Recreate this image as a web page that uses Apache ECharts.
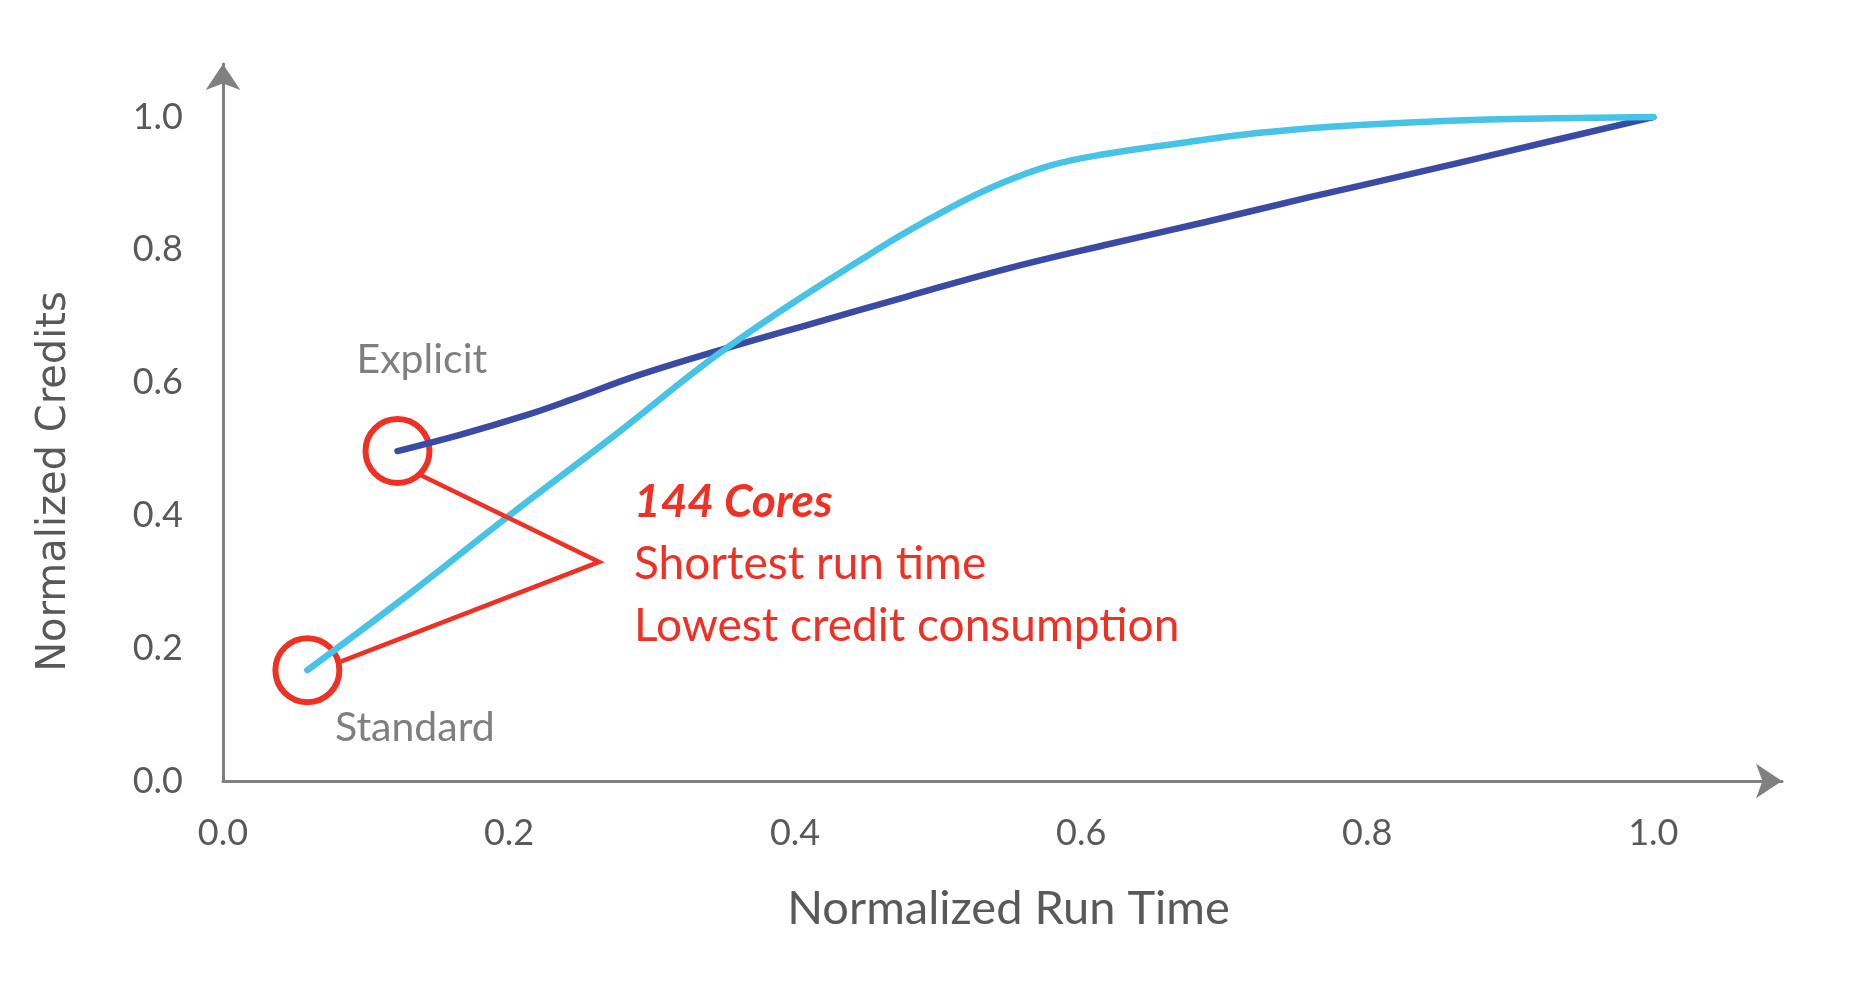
<!DOCTYPE html>
<html>
  <head>
    <meta charset="utf-8" />
    <title>Normalized Credits vs Run Time</title>
    <script src="https://cdn.jsdelivr.net/npm/echarts@6/dist/echarts.min.js"></script>
    <style type="text/css">
      html, body { margin: 0; padding: 0; background: #fff; }
    </style>
  </head>
  <body>
    <div id="main" style="width: 1871px; height: 990px"></div>
    <script type="text/javascript">
      // curves: [normalized run time, normalized credits]
      var explicitData = [
        [0.122, 0.497], [0.165, 0.521], [0.212, 0.551], [0.243, 0.574],
        [0.290, 0.611], [0.352, 0.652], [0.415, 0.691], [0.477, 0.729],
        [0.545, 0.770], [0.616, 0.807], [0.687, 0.842], [0.759, 0.879],
        [0.830, 0.914], [0.901, 0.950], [1.0, 1.0]
      ];
      var standardData = [
        [0.059, 0.167], [0.134, 0.288], [0.199, 0.398], [0.274, 0.521],
        [0.352, 0.652], [0.457, 0.800], [0.509, 0.864], [0.545, 0.901],
        [0.580, 0.928], [0.616, 0.944], [0.670, 0.961], [0.723, 0.976],
        [0.777, 0.986], [0.830, 0.992], [0.901, 0.997], [1.0, 1.0]
      ];
      var tickValues = [0, 0.2, 0.4, 0.6, 0.8, 1.0];

      // annotation: circled start points, connector, labels
      var circled = [explicitData[0], standardData[0]];
      var connector = [[0.138, 0.461], [0.263, 0.330], [0.080, 0.178]];
      var seriesLabels = [
        { name: "Explicit", value: [0.093, 0.634] },
        { name: "Standard", value: [0.078, 0.080] }
      ];
      var noteTitle = [{ name: "144 Cores", value: [0.287, 0.420] }];
      var noteLines = [
        { name: "Shortest run time", value: [0.287, 0.327] },
        { name: "Lowest credit consumption", value: [0.287, 0.233] }
      ];

      var red = "#EE3124";
      var axisGrey = "#808080";

      var myChart = echarts.init(document.getElementById("main"));

      function axisCommon(max) {
        return {
          type: "value",
          min: 0,
          max: max,
          interval: 0.2,
          splitLine: { show: false },
          axisTick: { show: false },
          axisLine: {
            show: true,
            symbol: ["none", "arrow"],
            symbolSize: [26, 26],
            lineStyle: { color: axisGrey, width: 3 }
          },
          axisLabel: {
            showMaxLabel: false,
            color: "#595959",
            fontFamily: "Lato",
            fontSize: 36,
            formatter: function (v) {
              return tickValues.indexOf(v) >= 0 ? v.toFixed(1) : "";
            }
          }
        };
      }

      var xAxis = axisCommon(1.09);
      xAxis.name = "Normalized Run Time";
      xAxis.nameLocation = "middle";
      xAxis.nameGap = 104;
      xAxis.nameTextStyle = {
        color: "#595959", fontFamily: "Lato", fontSize: 47, padding: [0, 0, 0, 12]
      };
      xAxis.axisLabel.margin = 34;

      var yAxis = axisCommon(1.08);
      yAxis.name = "Normalized Credits";
      yAxis.nameLocation = "middle";
      yAxis.nameGap = 148;
      yAxis.nameTextStyle = {
        color: "#595959", fontFamily: "DejaVu Sans", fontSize: 40, padding: [0, 118, 0, 0]
      };
      yAxis.axisLabel.margin = 40;

      var option = {
        animation: false,
        backgroundColor: "#ffffff",
        grid: { left: 223, right: 89, top: 64, bottom: 209, containLabel: false },
        xAxis: xAxis,
        yAxis: yAxis,
        series: [
          {
            name: "Explicit",
            type: "line",
            data: explicitData,
            smooth: 0.4,
            showSymbol: false,
            lineStyle: { color: "#3B4BA3", width: 6.5, cap: "round" }
          },
          {
            name: "Standard",
            type: "line",
            data: standardData,
            smooth: 0.4,
            showSymbol: false,
            lineStyle: { color: "#47C3E6", width: 6.5, cap: "round" }
          },
          {
            type: "line",
            data: connector,
            showSymbol: false,
            lineStyle: { color: red, width: 4.5, join: "miter", opacity: 1 }
          },
          {
            type: "scatter",
            data: circled,
            symbol: "circle",
            symbolSize: 64,
            itemStyle: { color: "transparent", borderColor: red, borderWidth: 6, opacity: 1 }
          },
          {
            type: "scatter",
            data: seriesLabels,
            symbolSize: 1,
            itemStyle: { color: "transparent", opacity: 1 },
            label: {
              show: true, position: "right", distance: 0,
              formatter: "{b}", color: "#7F7F7F", fontFamily: "Lato", fontSize: 41
            }
          },
          {
            type: "scatter",
            data: noteTitle,
            symbolSize: 1,
            itemStyle: { color: "transparent", opacity: 1 },
            label: {
              show: true, position: "right", distance: 0,
              formatter: "{b}", color: red, fontFamily: "Lato",
              fontSize: 46, fontWeight: "bold", fontStyle: "italic"
            }
          },
          {
            type: "scatter",
            data: noteLines,
            symbolSize: 1,
            itemStyle: { color: "transparent", opacity: 1 },
            label: {
              show: true, position: "right", distance: 0,
              formatter: "{b}", color: red, fontFamily: "Lato", fontSize: 46
            }
          }
        ]
      };

      myChart.setOption(option);
    </script>
  </body>
</html>
